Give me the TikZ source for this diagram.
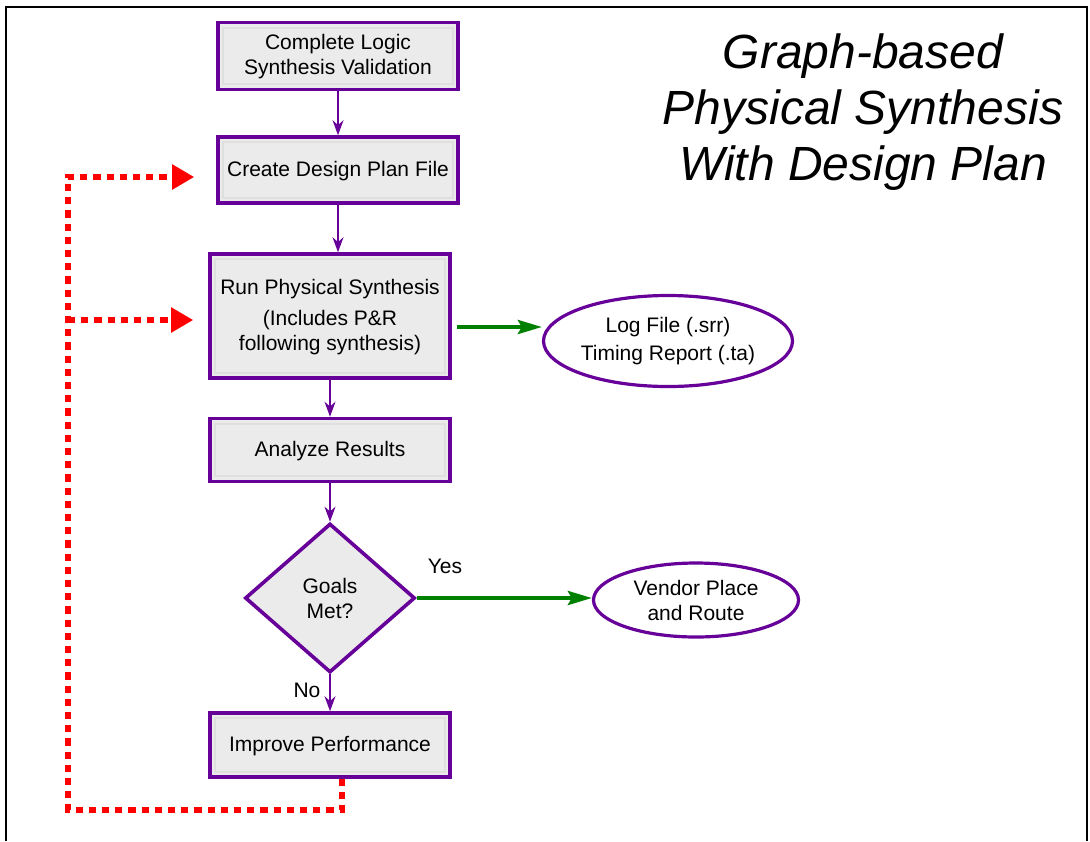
\documentclass[tikz,border=0pt]{standalone}
\usepackage{fontspec}
\setmainfont{Liberation Sans}
\usetikzlibrary{shapes.geometric,arrows.meta}
\definecolor{flowpurple}{RGB}{102,0,153}
\definecolor{flowgreen}{RGB}{0,128,0}
\definecolor{boxgray}{RGB}{235,235,235}
\pgfdeclarelayer{bg}
\pgfsetlayers{bg,main}

\begin{document}
\begin{tikzpicture}[x=0.5pt,y=-0.5pt,
                        font=\fontsize{10.5}{12.5}\selectfont,
                        stepbox/.style={draw=flowpurple, line width=1.8pt, fill=boxgray, align=center,
                            minimum width=120pt, minimum height=33pt, inner sep=0pt, text depth=1.5pt,
                            path picture={\draw[gray!25, line width=1pt]
                                ([shift={(2.6pt,-2.6pt)}]path picture bounding box.north west) rectangle
                                ([shift={(-2.6pt,2.6pt)}]path picture bounding box.south east);}},
                        decision/.style={diamond, draw=flowpurple, line width=1.8pt, fill=boxgray, align=center,
                            minimum width=85pt, minimum height=74.5pt, inner sep=0pt},
                        outcome/.style={ellipse, draw=flowpurple, line width=1.6pt, fill=white, align=center, inner sep=0pt},
                        flow/.style={draw=flowpurple, line width=0.6pt, -{Stealth[length=7.5pt,width=5.5pt]}},
                        result/.style={draw=flowgreen, line width=2pt, -{Stealth[length=12pt,width=7pt,inset=2pt]}},
                        iterate/.style={draw=red, line width=2.6pt, dash pattern=on 3.6pt off 3pt,
                            -{Triangle[length=11pt,width=12pt]}}]
                        \useasboundingbox (0,0) rectangle (1090,841);
                        \draw[line width=1.2pt] (6,841) -- (6,7) -- (1087,7) -- (1087,841);

                        \node[stepbox, minimum height=33.5pt] (logic) at (338,56) {Complete Logic\\Synthesis Validation};
                        \node[stepbox] (plan) at (338,170) {Create Design Plan File};
                        \node[stepbox, minimum height=62pt] (run) at (330,316) {Run Physical Synthesis\\[3pt](Includes P\&R\\following synthesis)};
                        \node[stepbox, minimum height=31.5pt] (analyze) at (330,450) {Analyze Results};
                        \node[decision] (goals) at (330,598) {Goals\\Met?};
                        \node[stepbox, minimum height=32pt] (improve) at (330,745) {Improve Performance};

                        \node[outcome, minimum width=124.5pt, minimum height=45.5pt] (log) at (668,341) {Log File (.srr)\\[1.5pt]Timing Report (.ta)};
                        \node[outcome, minimum width=102.5pt, minimum height=37pt] (vendor) at (696,600) {Vendor Place\\and Route};

                        \node (yes) at (445,566) {Yes};
                        \node (no) at (307,690) {No};

                        \node[font=\fontsize{24}{28}\selectfont\itshape, align=center] (title) at (863,112)
                            {Graph-based\\Physical Synthesis\\With Design Plan};

                        \coordinate (lc) at (68,810);
                        \coordinate (lt) at (68,177);
                        \coordinate (lm) at (68,320);

                        \draw[flow] (logic) -- (plan);
                        \draw[flow] (plan.south) -- (plan.south |- run.north);
                        \draw[flow] (run) -- (analyze);
                        \draw[flow] (analyze) -- (goals);
                        \draw[flow] (goals) -- (improve);

                        \draw[result] ([shift={(5,11)}]run.east) -- ([shift={(0,-14)}]log.west);
                        \draw[result] (goals.east) -- (goals.east -| vendor.west);

                        \begin{pgfonlayer}{bg}
                            \draw[iterate] ([shift={(12,0)}]improve.south) |- (lc) -- (lt) -- ([shift={(-22,7)}]plan.west);
                            \draw[iterate] (lm) -- ([shift={(-15,4)}]run.west);
                        \end{pgfonlayer}
                    \end{tikzpicture}
\end{document}
